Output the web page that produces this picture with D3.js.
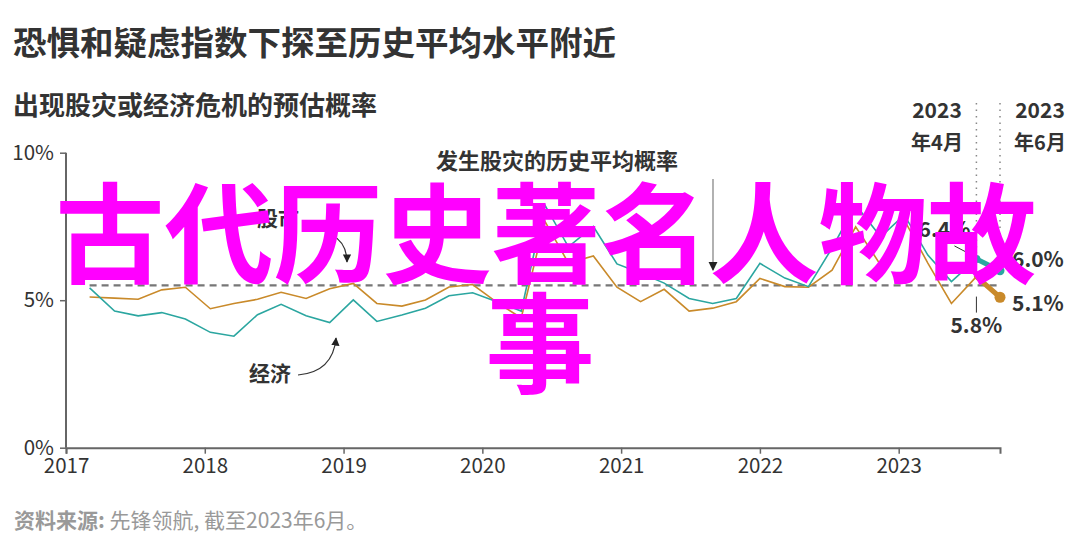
<!DOCTYPE html>
<html><head><meta charset="utf-8">
<script src="https://cdn.jsdelivr.net/npm/d3@7/dist/d3.min.js"></script>
<style>
body{margin:0;background:#fff;}
svg{display:block;}
text{font-family:"Noto Sans CJK SC","Liberation Sans",sans-serif;}
</style></head>
<body>
<script>
// ---- data ----
const dates = [2017.17,2017.35,2017.52,2017.69,2017.86,2018.04,2018.21,2018.38,2018.55,2018.73,
  2018.90,2019.07,2019.24,2019.42,2019.59,2019.76,2019.93,2020.11,2020.28,2020.45,
  2020.62,2020.80,2020.97,2021.14,2021.31,2021.49,2021.66,2021.83,2022.00,2022.18,
  2022.35,2022.52,2022.69,2022.87,2023.04,2023.21,2023.38,2023.56,2023.73];
const economy = [5.42,4.63,4.47,4.58,4.36,3.91,3.78,4.51,4.86,4.47,
  4.24,5.01,4.28,4.50,4.73,5.15,5.25,4.94,4.63,8.23,
  6.81,7.50,6.23,5.92,5.58,5.06,4.89,5.06,6.25,5.75,
  5.46,6.77,8.23,7.15,7.89,6.53,5.63,6.4,6.0];
const stocks = [5.11,5.07,5.03,5.35,5.44,4.71,4.89,5.03,5.27,5.06,
  5.39,5.57,4.89,4.80,5.01,5.45,5.53,4.91,4.40,7.68,
  6.26,6.50,5.44,4.95,5.37,4.63,4.73,4.95,5.74,5.46,
  5.44,6.02,7.49,6.19,7.72,6.26,4.89,5.8,5.1];
const historicalAvg = 5.5;
const yTicks = [0,5,10];
const xTicks = [2017,2018,2019,2020,2021,2022,2023];
const title = "恐惧和疑虑指数下探至历史平均水平附近";
const subtitle = "出现股灾或经济危机的预估概率";
const source = ["资料来源:", " 先锋领航, 截至2023年6月。"];
const overlay = ["古代历史著名人物故", "事"];

const W=1080,H=558;
const svg=d3.select("body").append("svg").attr("width",W).attr("height",H);
const x=d3.scaleLinear().domain([2017,2023.73]).range([66,1000]);
const y=d3.scaleLinear().domain([0,10]).range([447.7,152.7]);
const teal="#2ba6a0", orange="#c98a2a";

// titles
svg.append("text").attr("x",13).attr("y",55).attr("font-size",33.5).attr("font-weight","bold").attr("fill","#333").text(title);
svg.append("text").attr("x",13).attr("y",115).attr("font-size",26).attr("font-weight","bold").attr("fill","#333").text(subtitle);

// axes
const yAxis=svg.append("g").attr("transform","translate(66,0)")
  .call(d3.axisLeft(y).tickValues(yTicks).tickFormat(d=>d+"%").tickSize(6).tickPadding(6));
const xAxis=svg.append("g").attr("transform","translate(0,447.7)")
  .call(d3.axisBottom(x).tickValues(xTicks).tickFormat(d3.format("d")).tickSize(6).tickPadding(5));
[yAxis,xAxis].forEach(g=>{
  g.select(".domain").attr("stroke","#666").attr("stroke-width",2);
  g.selectAll(".tick line").attr("stroke","#666").attr("stroke-width",1.5);
  g.selectAll(".tick text").attr("fill","#333").attr("font-size",20.5).attr("font-family","'Liberation Sans',Arial,sans-serif");
});
yAxis.select(".domain").attr("d","M0,447.7V152.7");
yAxis.selectAll(".tick line").attr("x2",-6);

// historical average
svg.append("line").attr("x1",x(dates[0])).attr("x2",x(dates[dates.length-1]))
  .attr("y1",y(historicalAvg)).attr("y2",y(historicalAvg))
  .attr("stroke","#777").attr("stroke-width",2.2).attr("stroke-dasharray","7,5");

// dotted verticals
const n=dates.length;
[[n-2,economy[n-2]],[n-1,economy[n-1]]].forEach(([i,v])=>{
  svg.append("line").attr("x1",x(dates[i])).attr("x2",x(dates[i])).attr("y1",103).attr("y2",y(v)-6)
    .attr("stroke","#888").attr("stroke-width",1.5).attr("stroke-dasharray","1.5,5");
});
svg.append("line").attr("x1",x(dates[n-2])).attr("x2",x(dates[n-2])).attr("y1",y(stocks[n-2])+20).attr("y2",y(stocks[n-2])+36)
  .attr("stroke","#333").attr("stroke-width",1);

// lines
const line=d3.line().x(d=>x(d[0])).y(d=>y(d[1]));
const seriesE=dates.map((d,i)=>[d,economy[i]]);
const seriesS=dates.map((d,i)=>[d,stocks[i]]);
svg.append("path").attr("d",line(seriesS.slice(0,n-1))).attr("fill","none").attr("stroke",orange).attr("stroke-width",1.6);
svg.append("path").attr("d",line(seriesE.slice(0,n-1))).attr("fill","none").attr("stroke",teal).attr("stroke-width",1.6);
svg.append("path").attr("d",line(seriesS.slice(n-2))).attr("fill","none").attr("stroke",orange).attr("stroke-width",5).attr("stroke-linecap","round");
svg.append("path").attr("d",line(seriesE.slice(n-2))).attr("fill","none").attr("stroke",teal).attr("stroke-width",5).attr("stroke-linecap","round");
svg.append("circle").attr("cx",x(dates[n-1])).attr("cy",y(stocks[n-1])).attr("r",5.5).attr("fill",orange);
svg.append("circle").attr("cx",x(dates[n-1])).attr("cy",y(economy[n-1])).attr("r",4.5).attr("fill",teal);
svg.append("circle").attr("cx",x(dates[n-2])).attr("cy",y(economy[n-2])).attr("r",4).attr("fill",teal);

// end labels
const lbl=(t,xx,yy,anchor)=>svg.append("text").attr("x",xx).attr("y",yy).attr("text-anchor",anchor||"start")
  .attr("font-size",21).attr("font-weight","bold").attr("fill","#333").attr("font-family","'Liberation Sans',Arial,sans-serif").text(t);
lbl(economy[n-2].toFixed(1)+"%",x(dates[n-2])-6,y(economy[n-2])-22,"end");
svg.append("line").attr("x1",x(dates[n-2])-22).attr("y1",y(economy[n-2])-13).attr("x2",x(dates[n-2])-3).attr("y2",y(economy[n-2])-3).attr("stroke","#333").attr("stroke-width",1);
lbl(economy[n-1].toFixed(1)+"%",x(dates[n-1])+12,y(economy[n-1])-4);
lbl(stocks[n-1].toFixed(1)+"%",x(dates[n-1])+12,y(stocks[n-1])+14);
lbl(stocks[n-2].toFixed(1)+"%",x(dates[n-2]),y(stocks[n-2])+56,"middle");

// date headers
[[n-2,"年4月",937],[n-1,"年6月",1040]].forEach(([i,m,cx])=>{
  svg.append("text").attr("x",cx).attr("y",118).attr("text-anchor","middle").attr("font-size",21).attr("font-weight","bold").attr("fill","#333").attr("font-family","'Liberation Sans',Arial,sans-serif").text("2023");
  svg.append("text").attr("x",cx).attr("y",150).attr("text-anchor","middle").attr("font-size",20).attr("font-weight","bold").attr("fill","#333").text(m);
});

// annotations
svg.append("defs").append("marker").attr("id","ah").attr("viewBox","0 0 10 10").attr("refX",9).attr("refY",5)
  .attr("markerWidth",7).attr("markerHeight",7).attr("orient","auto-start-reverse")
  .append("path").attr("d","M0,0L10,5L0,10z").attr("fill","#222");
svg.append("text").attr("x",557).attr("y",169).attr("text-anchor","middle").attr("font-size",22).attr("font-weight","bold").attr("fill","#333").text("发生股灾的历史平均概率");
svg.append("line").attr("x1",713).attr("x2",713).attr("y1",179).attr("y2",270).attr("stroke","#888").attr("stroke-width",1.3).attr("marker-end","url(#ah)");
svg.append("text").attr("x",257).attr("y",226).attr("font-size",21).attr("font-weight","bold").attr("fill","#333").text("股市");
svg.append("path").attr("d","M332,235 Q347,243 347,262").attr("fill","none").attr("stroke","#333").attr("stroke-width",1.2).attr("marker-end","url(#ah)");
svg.append("text").attr("x",249).attr("y",381).attr("font-size",21).attr("font-weight","bold").attr("fill","#333").text("经济");
svg.append("path").attr("d","M298,375 Q333,372 336,338").attr("fill","none").attr("stroke","#333").attr("stroke-width",1.2).attr("marker-end","url(#ah)");

// source
const src=svg.append("text").attr("x",14).attr("y",528).attr("font-size",21).attr("fill","#999");
src.append("tspan").attr("font-weight","bold").text(source[0]);
src.append("tspan").text(source[1]);

// overlay text
svg.append("text").attr("x",546).attr("y",275).attr("text-anchor","middle").attr("font-size",109).attr("font-weight","bold").attr("fill","#ff00ff").text(overlay[0]);
svg.append("text").attr("x",540).attr("y",385).attr("text-anchor","middle").attr("font-size",109).attr("font-weight","bold").attr("fill","#ff00ff").text(overlay[1]);
</script>
</body></html>
